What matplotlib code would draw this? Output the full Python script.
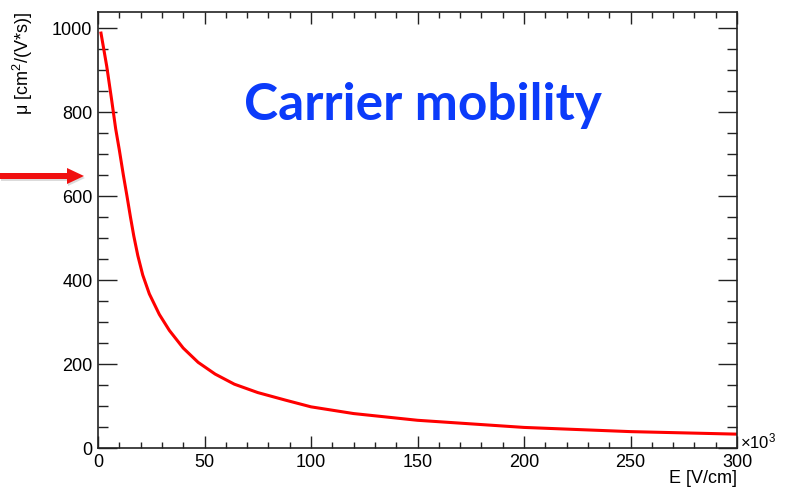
import matplotlib
matplotlib.use('Agg')
import matplotlib.pyplot as plt
from matplotlib.ticker import MultipleLocator
from matplotlib.patches import FancyArrow
from matplotlib.transforms import IdentityTransform

# 电场 E (x10^3 V/cm) 与迁移率 μ 读数
E_field = [1.4, 4.1, 6.4, 8.3, 10.0, 11.9, 13.6, 15.2, 16.8, 18.7, 21.0,
           24.1, 28.8, 33.5, 40.0, 47.0, 55.0, 64.0, 75.0, 88.0, 100.0,
           120.0, 150.0, 200.0, 250.0, 300.0]
mobility = [988, 909, 829, 760, 710, 650, 600, 551, 505, 458, 412,
            367, 318, 280, 238, 204, 176, 152, 132, 114, 98,
            82, 66, 49, 39, 33]

x_ticks = [0, 50, 100, 150, 200, 250, 300]
y_ticks = [0, 200, 400, 600, 800, 1000]

plt.rcParams['font.family'] = ['Liberation Sans', 'DejaVu Sans']
plt.rcParams['mathtext.fontset'] = 'custom'
plt.rcParams['mathtext.rm'] = 'Liberation Sans'
plt.rcParams['mathtext.it'] = 'Liberation Sans:italic'

W, H = 787, 494
fig = plt.figure(figsize=(W / 100, H / 100), dpi=100)
ax = fig.add_axes([98 / W, 1 - 448 / H, (737 - 98) / W, (448 - 12.5) / H])

ax.plot(E_field, mobility, color='#ff0000', lw=2.2, solid_joinstyle='round')

ax.set_xlim(0, 300)
ax.set_ylim(0, 1037)
ax.set_xticks(x_ticks)
ax.set_yticks(y_ticks)
ax.xaxis.set_minor_locator(MultipleLocator(10))
ax.yaxis.set_minor_locator(MultipleLocator(50))

ax.tick_params(which='both', direction='in', top=True, right=True,
               labelsize=13, width=1.0, color='#222222')
ax.tick_params(axis='x', which='major', length=8.6, pad=4)
ax.tick_params(axis='x', which='minor', length=4.3)
ax.tick_params(axis='y', which='major', length=13.5, pad=4)
ax.tick_params(axis='y', which='minor', length=7)
for sp in ax.spines.values():
    sp.set_linewidth(1.2)
    sp.set_color('#222222')

ax.set_ylabel('μ [cm$^{2}$/(V*s)]', loc='top', fontsize=13)
ax.yaxis.set_label_coords(-0.098, 1.0)
ax.set_xlabel('E [V/cm]', loc='right', fontsize=13)
ax.xaxis.set_label_coords(1.0, -0.05)
ax.text(1.004, 0.0, r'$\times$10$^{3}$', transform=ax.transAxes, ha='left',
        va='baseline', fontsize=12)

# 标题
fig.text(422.5 / W, 1 - 120 / H, 'Carrier mobility', family='Lato',
         fontweight='bold', fontsize=37, color='#0b3bfa', ha='center',
         va='baseline')

# 左侧红色箭头
y_arr = H - 176
shadow = FancyArrow(1, y_arr - 2, 84, 0, width=6, head_width=16,
                    head_length=17, length_includes_head=True,
                    transform=IdentityTransform(), color='#888888',
                    alpha=0.3, lw=0)
arrow = FancyArrow(0, y_arr, 84, 0, width=6, head_width=16, head_length=17,
                   length_includes_head=True, transform=IdentityTransform(),
                   color='#f01010', lw=0)
fig.patches.append(shadow)
fig.patches.append(arrow)

fig.savefig('out.png', dpi=100)
